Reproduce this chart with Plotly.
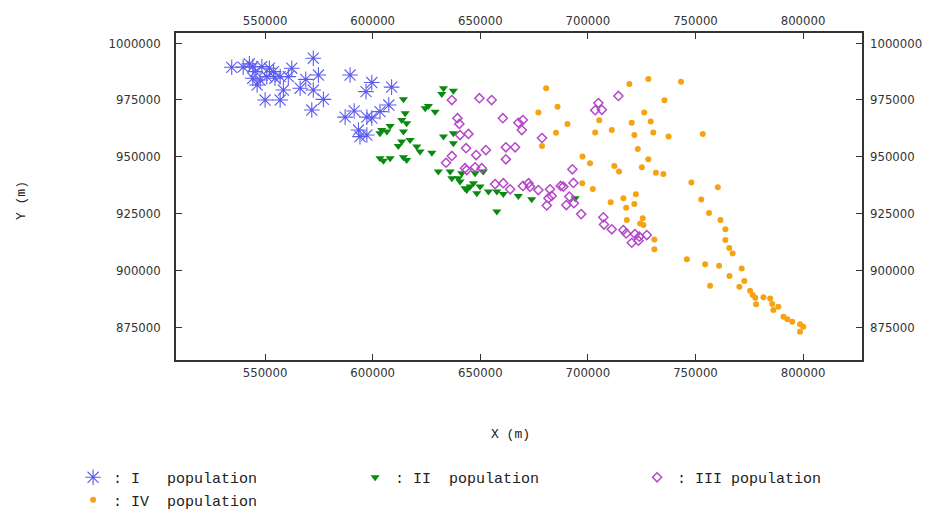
import plotly.graph_objects as go

# ---------------- data ----------------
x_I = [534500, 539800, 542700, 544300, 545400, 548500, 552000, 553900, 544300, 547700,
       550800, 554600, 557000, 560800, 562400, 558500, 566300, 568900, 572400, 574800,
       572400, 577100, 571700, 550000, 557000, 546300, 589500, 599600, 596900, 608800,
       607500, 603400, 591400, 587200, 597300, 599600, 593400, 597300, 594100]
y_I = [989300, 989400, 990800, 989600, 987400, 989600, 988900, 987400, 984500, 983700,
       985200, 984500, 985200, 985200, 988900, 979300, 980100, 984000, 993300, 985900,
       979300, 975200, 970500, 974900, 974900, 981500, 985900, 982600, 978600, 980600,
       972700, 969800, 970100, 967400, 967400, 967000, 961700, 959500, 958800]

x_II = [614300, 615100, 613500, 615800, 608100, 604200, 606600, 603400, 614300, 617400,
        613500, 611900, 620500, 622000, 627500, 603400, 605000, 608100, 614300, 615800,
        624400, 625900, 629000, 632900, 637500, 632100, 637500, 632900, 637500, 630500,
        636000, 636800, 639800, 641400, 640600, 642900, 645300, 646800, 647600, 651400,
        649900, 653800, 648400, 657700, 660700, 667700, 673900, 657700, 643700, 694100]
y_II = [975200, 969100, 966100, 964700, 963500, 961700, 961000, 960300, 961000, 957300,
        956600, 954700, 954400, 952200, 951700, 949300, 948200, 949300, 949700, 948500,
        971300, 972300, 969800, 980100, 979000, 977600, 960300, 958800, 955900, 943400,
        943400, 940500, 940500, 942700, 939000, 936100, 936800, 938300, 942700, 943400,
        936800, 934600, 933900, 934600, 933500, 932700, 931200, 925800, 935300, 931700]

x_III = [636800, 649600, 655300, 639400, 640300, 640600, 644500, 660500, 667700, 669800,
         669300, 643400, 648100, 652600, 661900, 666200, 661900, 636800, 634100, 642900,
         643700, 647600, 650700, 656900, 660700, 663900, 669800, 672400, 673100, 677000,
         678700, 682400, 683200, 681700, 680900, 687400, 688600, 691400, 693300, 692800,
         690000, 693500, 696900, 707200, 707500, 704900, 703400, 706500, 714200, 711100,
         716500, 717800, 721900, 723900, 727400, 720400, 723500]
y_III = [974900, 975700, 974900, 966900, 964400, 959500, 960000, 966900, 964900, 966100,
         961700, 953700, 950700, 952900, 954100, 954100, 948800, 950300, 947300, 944900,
         944100, 945300, 944900, 937900, 938300, 935600, 937100, 938300, 936800, 935300,
         958200, 935600, 932700, 931700, 928500, 937100, 936800, 932400, 938400, 944400,
         928700, 929500, 924700, 923300, 920100, 973600, 970400, 970600, 976700, 918000,
         917700, 916200, 915900, 914800, 915500, 912100, 913000]

x_IV = [680600, 719300, 728100, 743300, 685900, 677000, 735600, 726200, 705300, 690500,
        720400, 729200, 685200, 703400, 711100, 721600, 730400, 737500, 753400, 678700,
        723200, 697500, 701000, 728100, 712300, 714500, 725100, 731600, 735100, 697400,
        702300, 748100, 760400, 716500, 722300, 710600, 717800, 721600, 752700, 756300,
        761600, 718100, 724300, 725500, 725800, 763900, 730900, 763900, 765700, 767300,
        730900, 746000, 754500, 761000, 771500, 756800, 765800, 772700, 770400, 775400,
        776600, 777800, 778200, 781600, 784700, 785700, 788500, 786200, 790900, 792700,
        795000, 798600, 800100, 798600]
y_IV = [980100, 982000, 984200, 983000, 972000, 969400, 974800, 969400, 966000, 964400,
        964900, 965400, 960500, 960600, 961700, 959500, 960600, 958800, 960000, 954700,
        953300, 950000, 947100, 948800, 945900, 943400, 945300, 942900, 942300, 938300,
        935700, 938600, 936500, 931700, 933400, 929900, 927500, 929100, 931100, 925200,
        922100, 922100, 920600, 922900, 919900, 918000, 913500, 913300, 909800, 907400,
        909200, 904800, 902600, 902000, 900800, 893200, 897500, 895300, 892700, 891000,
        889100, 887900, 885000, 888100, 887600, 885100, 883900, 882500, 879500, 878400,
        877300, 876200, 875100, 872900]

series_names = [":\u00a0I\u00a0\u00a0\u00a0population", ":\u00a0II\u00a0\u00a0population",
                ":\u00a0III\u00a0population", ":\u00a0IV\u00a0\u00a0population"]

x_ticks = [550000, 600000, 650000, 700000, 750000, 800000]
y_ticks = [875000, 900000, 925000, 950000, 975000, 1000000]
x_range = [508600, 827400]
y_range = [860500, 1004400]

# ---------------- figure ----------------
fig = go.Figure()
fig.add_trace(go.Scatter(x=x_I, y=y_I, mode="markers", name=series_names[0],
                         marker=dict(symbol="asterisk-open", size=13, color="#5c5cec",
                                     line=dict(color="#5c5cec", width=1.1))))
fig.add_trace(go.Scatter(x=x_II, y=y_II, mode="markers", name=series_names[1],
                         marker=dict(symbol="triangle-down", size=8, color="#0b8a12",
                                     line=dict(width=0))))
fig.add_trace(go.Scatter(x=x_III, y=y_III, mode="markers", name=series_names[2],
                         marker=dict(symbol="diamond-open", size=7, color="#b548c8",
                                     line=dict(color="#b548c8", width=1.5))))
fig.add_trace(go.Scatter(x=x_IV, y=y_IV, mode="markers", name=series_names[3],
                         marker=dict(symbol="circle", size=6, color="#f5a312",
                                     line=dict(width=0))))
fig.add_trace(go.Scatter(x=[], y=[], xaxis="x2", yaxis="y2", showlegend=False,
                         hoverinfo="skip"))

tickfont = dict(family="DejaVu Sans Condensed, DejaVu Sans", size=13, color="#333333")
common = dict(showgrid=False, zeroline=False, ticks="inside", ticklen=6, tickwidth=1.2,
              tickcolor="#333333", tickfont=tickfont)

fig.update_layout(
    width=926, height=506,
    margin=dict(l=168, r=72, t=25, b=154, autoexpand=False),
    plot_bgcolor="white", paper_bgcolor="white",
    xaxis=dict(range=x_range, tickvals=x_ticks, ticktext=[str(v) for v in x_ticks],
               showline=True, linecolor="#333333", linewidth=1.5, mirror=True,
               ticklabelstandoff=0, **common),
    xaxis2=dict(range=x_range, tickvals=x_ticks, ticktext=[str(v) for v in x_ticks],
                overlaying="x", side="top", anchor="y", showline=False,
                ticklabelstandoff=4, **common),
    yaxis=dict(range=y_range, tickvals=y_ticks, ticktext=[str(v) for v in y_ticks],
               showline=True, linecolor="#333333", linewidth=1.5, mirror=True,
               ticklabelstandoff=11, **common),
    yaxis2=dict(range=y_range, tickvals=y_ticks, ticktext=[str(v) for v in y_ticks],
                overlaying="y", side="right", anchor="x", showline=False,
                ticklabelstandoff=7, **common),
    legend=dict(orientation="h", xref="paper", yref="paper",
                x=-0.150, y=-0.309, xanchor="left", yanchor="top",
                entrywidth=237, entrywidthmode="pixels",
                font=dict(family="Liberation Mono", size=15, color="#222222"),
                bgcolor="rgba(0,0,0,0)", traceorder="normal"),
    annotations=[
        dict(text="X (m)", xref="paper", yref="paper", x=0.488, y=-0.229,
             xanchor="center", yanchor="middle", showarrow=False,
             font=dict(family="Liberation Mono", size=13, color="#222222")),
        dict(text="Y (m)", xref="paper", yref="paper", x=-0.226, y=0.489,
             xanchor="center", yanchor="middle", showarrow=False, textangle=-90,
             font=dict(family="Liberation Mono", size=13, color="#222222")),
    ],
)

fig.write_html("out.html")
